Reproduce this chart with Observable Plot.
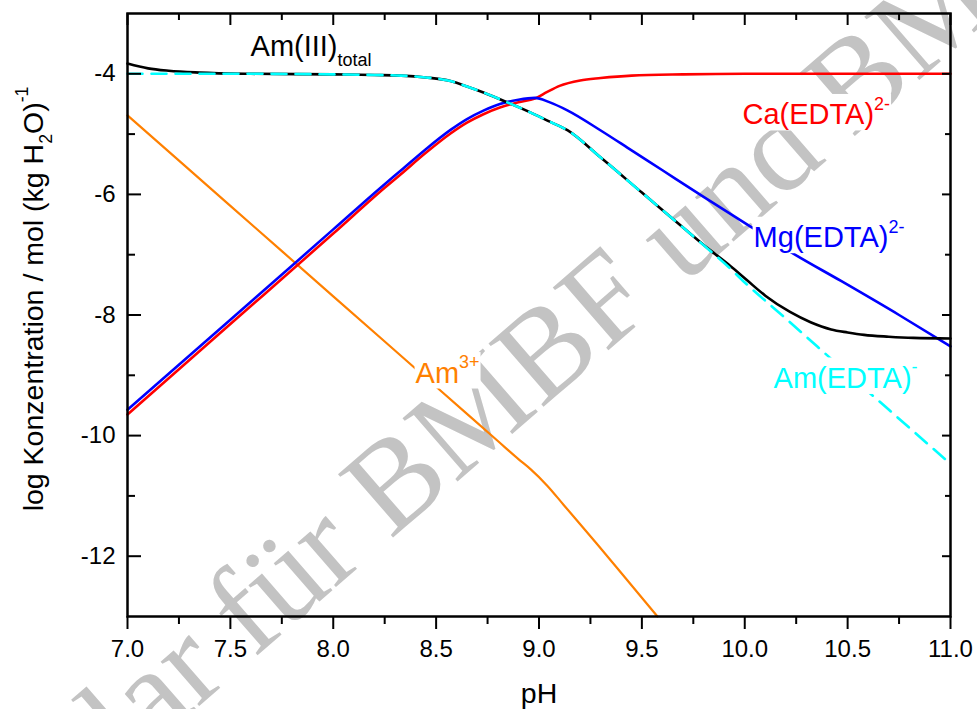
<!DOCTYPE html>
<html>
<head>
<meta charset="utf-8">
<script src="https://cdn.jsdelivr.net/npm/d3@7"></script>
<script src="https://cdn.jsdelivr.net/npm/@observablehq/plot@0.6"></script>
<style>
  html, body { margin: 0; padding: 0; background: #fff; overflow: hidden; }
  #chart svg { display: block; }
</style>
</head>
<body>
<div id="chart"></div>
<script>
// ---------- data ----------
const pHAm3 = [7.0, 7.5, 8.0, 8.5, 8.8, 8.9, 8.96, 9.04, 9.12, 9.28, 9.41, 9.576];
const logAm3 = [-4.69, -6.19, -7.69, -9.19, -10.09, -10.39, -10.56, -10.83, -11.15, -11.79, -12.32, -13.0];

const pHCa = [7.0, 7.5, 8.0, 8.25, 8.33, 8.45, 8.57, 8.65, 8.73, 8.81, 8.9, 8.98, 9.04, 9.1, 9.2, 9.3, 9.45, 9.7, 10.0, 10.5, 11.0];
const logCa = [-9.65, -8.15, -6.65, -5.89, -5.66, -5.31, -4.99, -4.81, -4.67, -4.56, -4.47, -4.41, -4.30, -4.20, -4.11, -4.07, -4.03, -4.01, -4.0, -4.0, -4.0];

const pHMg = [7.0, 7.5, 8.0, 8.25, 8.33, 8.45, 8.57, 8.65, 8.73, 8.81, 8.9, 8.98, 9.05, 9.14, 9.3, 9.45, 9.6, 9.8, 10.03, 10.24, 10.47, 10.75, 11.0];
const logMg = [-9.57, -8.08, -6.58, -5.83, -5.60, -5.25, -4.93, -4.75, -4.61, -4.50, -4.43, -4.40, -4.47, -4.61, -4.94, -5.27, -5.60, -6.04, -6.54, -6.99, -7.44, -8.0, -8.52];

const pHTot = [7.0, 7.1, 7.2, 7.35, 7.6, 8.0, 8.2, 8.33, 8.45, 8.57, 8.65, 8.73, 8.85, 8.97, 9.05, 9.14, 9.3, 9.5, 9.7, 9.83, 9.92, 10.01, 10.1, 10.22, 10.32, 10.42, 10.5, 10.58, 10.7, 10.82, 11.0];
const logTot = [-3.83, -3.91, -3.95, -3.98, -4.0, -4.01, -4.02, -4.03, -4.06, -4.12, -4.21, -4.31, -4.48, -4.66, -4.79, -4.94, -5.39, -5.97, -6.55, -6.92, -7.16, -7.42, -7.68, -7.95, -8.12, -8.24, -8.29, -8.33, -8.36, -8.38, -8.39];

const pHAmEDTA = [7.0, 7.6, 8.0, 8.2, 8.33, 8.45, 8.57, 8.65, 8.73, 8.85, 8.97, 9.05, 9.14, 9.3, 9.5, 9.7, 9.83, 9.92, 10.0, 10.2, 10.5, 10.8, 11.0];
const logAmEDTA = [-4.0, -4.0, -4.01, -4.02, -4.03, -4.06, -4.12, -4.21, -4.31, -4.48, -4.66, -4.79, -4.94, -5.39, -5.97, -6.55, -6.93, -7.2, -7.46, -8.06, -8.97, -9.87, -10.47];

// tick values
const xMajor = [7.0, 7.5, 8.0, 8.5, 9.0, 9.5, 10.0, 10.5, 11.0];
const xMinor = [7.25, 7.75, 8.25, 8.75, 9.25, 9.75, 10.25, 10.75];
const yMajor = [-4, -6, -8, -10, -12];
const yMinor = [-5, -7, -9, -11];

// series labels (text and anchor in data units)
const labelText = ["Am(III)_{total}", "Ca(EDTA)^{2-}", "Mg(EDTA)^{2-}", "Am(EDTA)^{-}", "Am^{3+}"];
const labelPH   = [7.598, 9.989, 10.043, 10.14, 8.40];
const labelLog  = [-3.70, -4.84, -6.876, -9.21, -9.12];

const xTitle = "pH";
const yTitle = "log Konzentration / mol (kg H_{2}O)^{-1}";
const watermark = "Exemplar für BMBF und BMWi";

// ---------- build ----------
const rows = (xs, ys) => xs.map((x, i) => ({pH: x, v: ys[i]}));
const W = 977, H = 709;
const mL = 127, mR = 27, mT = 13, mB = 93;
const innerW = W - mL - mR, innerH = H - mT - mB;
const colors = ["black", "#ff0000", "#0000ff", "#00ffff", "#ff8000"];
const LABEL_SIZE = 29, TITLE_SIZE = 28.5;

const labelMarks = labelText.map((t, i) =>
  Plot.text([{pH: labelPH[i], v: labelLog[i], t}], {
    x: "pH", y: "v", text: "t", fill: colors[i], fontSize: LABEL_SIZE,
    textAnchor: "start", lineAnchor: "bottom"
  })
);

const plot = Plot.plot({
  width: W, height: H,
  marginLeft: mL, marginRight: mR, marginTop: mT, marginBottom: mB,
  style: {fontFamily: "Arial, 'Liberation Sans', Helvetica, sans-serif", background: "white", color: "black", overflow: "hidden"},
  x: {domain: [7, 11]},
  y: {domain: [-13, -3]},
  marks: [
    Plot.line(rows(pHAm3, logAm3), {x: "pH", y: "v", stroke: "#ff8000", strokeWidth: 2.2, curve: "monotone-x"}),
    Plot.line(rows(pHCa, logCa), {x: "pH", y: "v", stroke: "#ff0000", strokeWidth: 2.6, curve: "monotone-x"}),
    Plot.line(rows(pHMg, logMg), {x: "pH", y: "v", stroke: "#0000ff", strokeWidth: 2.6, curve: "monotone-x"}),
    Plot.line(rows(pHTot, logTot), {x: "pH", y: "v", stroke: "black", strokeWidth: 2.6, curve: "monotone-x"}),
    Plot.line(rows(pHAmEDTA, logAmEDTA), {x: "pH", y: "v", stroke: "#00ffff", strokeWidth: 2.6, strokeDasharray: "15,9", curve: "monotone-x"}),
    // ticks
    Plot.tickX(xMajor, {x: d => d, insetTop: innerH, insetBottom: -13, strokeWidth: 2}),
    Plot.tickX(xMinor, {x: d => d, insetTop: innerH, insetBottom: -8, strokeWidth: 2}),
    Plot.tickX(xMajor, {x: d => d, insetBottom: innerH - 12, strokeWidth: 2}),
    Plot.tickX(xMinor, {x: d => d, insetBottom: innerH - 7, strokeWidth: 2}),
    Plot.tickY(yMajor, {y: d => d, insetRight: innerW - 14, strokeWidth: 2}),
    Plot.tickY(yMinor, {y: d => d, insetRight: innerW - 8, strokeWidth: 2}),
    Plot.tickY(yMajor, {y: d => d, insetLeft: innerW - 8, strokeWidth: 2}),
    Plot.tickY(yMinor, {y: d => d, insetLeft: innerW - 5, strokeWidth: 2}),
    Plot.frame({stroke: "black", strokeWidth: 2.5}),
    Plot.axisX(xMajor, {tickSize: 0, tickPadding: 23, fontSize: 24, tickFormat: d => d.toFixed(1), label: null}),
    Plot.axisY(yMajor, {tickSize: 0, tickPadding: 12, fontSize: 24, tickFormat: d => String(d), label: null}),
    Plot.text([xTitle], {text: d => d, frameAnchor: "bottom", dy: 86, lineAnchor: "bottom", fontSize: TITLE_SIZE}),
    Plot.text([yTitle], {text: d => d, frameAnchor: "left", rotate: -90, dx: -85, dy: -16, textAnchor: "middle", lineAnchor: "bottom", fontSize: TITLE_SIZE}),
    ...labelMarks
  ]
});

document.getElementById("chart").appendChild(plot);

// ---------- rich text (sub/superscripts) ----------
const svgNS = "http://www.w3.org/2000/svg";
function richify(el, str, size) {
  const parts = str.split(/(\^\{[^}]*\}|_\{[^}]*\})/).filter(s => s);
  while (el.firstChild) el.removeChild(el.firstChild);
  let cur = 0;
  for (const p of parts) {
    let kind = 0, txt = p;
    if (p.startsWith("^{")) { kind = 1; txt = p.slice(2, -1); }
    else if (p.startsWith("_{")) { kind = 2; txt = p.slice(2, -1); }
    const target = kind === 1 ? -0.5 * size : kind === 2 ? 0.34 * size : 0;
    const ts = document.createElementNS(svgNS, "tspan");
    if (target !== cur) ts.setAttribute("dy", target - cur);
    if (kind) ts.setAttribute("font-size", 0.62 * size);
    ts.textContent = txt;
    el.appendChild(ts);
    cur = target;
  }
}
const labelSet = new Set(labelText);
plot.querySelectorAll("text").forEach(el => {
  const s = el.textContent;
  if (/[\^_]\{/.test(s)) {
    const isLabel = labelSet.has(s);
    richify(el, s, isLabel ? LABEL_SIZE : TITLE_SIZE);
    if (isLabel) {
      const b = el.getBBox();
      const r = document.createElementNS(svgNS, "rect");
      r.setAttribute("x", b.x - 1); r.setAttribute("y", b.y);
      r.setAttribute("width", b.width + 2); r.setAttribute("height", b.height);
      r.setAttribute("fill", "white"); r.setAttribute("stroke", "none");
      const tr = el.getAttribute("transform");
      if (tr) r.setAttribute("transform", tr);
      el.parentNode.insertBefore(r, el);
    }
  }
});

// ---------- watermark (behind everything) ----------
const wm = document.createElementNS(svgNS, "text");
wm.setAttribute("transform", "translate(457,425) rotate(-41)");
wm.setAttribute("text-anchor", "middle");
wm.setAttribute("dominant-baseline", "central");
wm.setAttribute("font-family", "'Liberation Serif', 'Times New Roman', serif");
wm.setAttribute("font-size", 128);
wm.setAttribute("fill", "#c3c3c3");
wm.textContent = watermark;
const firstG = plot.querySelector("g, path, rect, line");
plot.insertBefore(wm, firstG);
</script>
</body>
</html>
